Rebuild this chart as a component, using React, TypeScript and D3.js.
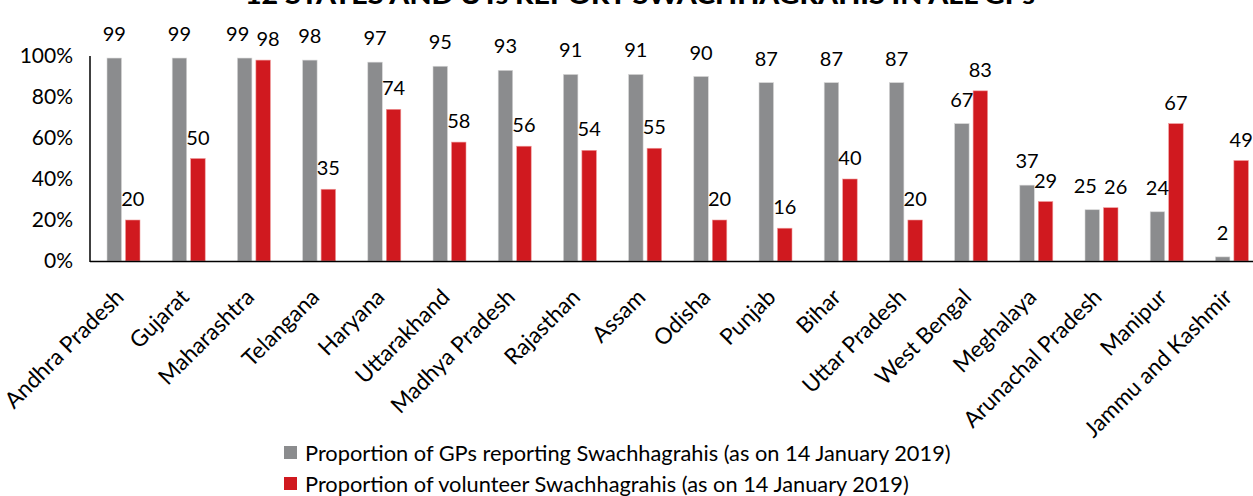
import React, { useEffect, useRef } from 'react';
import * as d3 from 'd3';

const states = [
  'Andhra Pradesh', 'Gujarat', 'Maharashtra', 'Telangana', 'Haryana', 'Uttarakhand',
  'Madhya Pradesh', 'Rajasthan', 'Assam', 'Odisha', 'Punjab', 'Bihar', 'Uttar Pradesh',
  'West Bengal', 'Meghalaya', 'Arunachal Pradesh', 'Manipur', 'Jammu and Kashmir',
];
const gpShare = [99, 99, 99, 98, 97, 95, 93, 91, 91, 90, 87, 87, 87, 67, 37, 25, 24, 2];
const volunteerShare = [20, 50, 98, 35, 74, 58, 56, 54, 55, 20, 16, 40, 20, 83, 29, 26, 67, 49];
const yTicks = [0, 20, 40, 60, 80, 100];
const seriesNames = [
  'Proportion of GPs reporting Swachhagrahis (as on 14 January 2019)',
  'Proportion of volunteer Swachhagrahis (as on 14 January 2019)',
];
const title = '12 STATES AND UTs REPORT SWACHHAGRAHIS IN ALL GPs';

const GREY = '#8b8c8e';
const RED = '#d0191f';
const FONT = 'Lato, "Open Sans", sans-serif';

const App = () => {
  const ref = useRef<SVGSVGElement>(null);

  useEffect(() => {
    const svg = d3.select(ref.current);
    svg.selectAll('*').remove();

    const width = 1253;
    const left = 90;
    const x0 = d3.scaleBand().domain(states).range([left, left + states.length * 65.2]);
    const x1 = d3.scaleBand().domain(['gp', 'vol']).range([17, 50]).paddingInner(0.216);
    const y = d3.scaleLinear().domain([0, 100]).range([261, 56]);

    // title, mostly above the visible area
    svg.append('text')
      .attr('x', 640).attr('y', 4)
      .attr('text-anchor', 'middle')
      .attr('font-family', FONT).attr('font-weight', 900).attr('font-size', 24)
      .attr('textLength', 790).attr('lengthAdjust', 'spacingAndGlyphs')
      .text(title);

    // y tick labels
    svg.append('g').selectAll('text')
      .data(yTicks).enter().append('text')
      .attr('x', 73).attr('y', d => y(d))
      .attr('dy', '0.35em')
      .attr('text-anchor', 'end')
      .attr('font-family', FONT).attr('font-size', 21)
      .text(d => d + '%');

    const rows = states.map((s, i) => ({ state: s, gp: gpShare[i], vol: volunteerShare[i] }));

    const groups = svg.append('g').selectAll('g')
      .data(rows).enter().append('g')
      .attr('transform', d => `translate(${x0(d.state)},0)`);

    const bw = x1.bandwidth();
    groups.append('rect')
      .attr('x', x1('gp')!).attr('width', bw)
      .attr('y', d => y(d.gp)).attr('height', d => y(0) - y(d.gp))
      .attr('fill', GREY).attr('stroke', '#d6d6d6').attr('stroke-width', 0.6);
    groups.append('rect')
      .attr('x', x1('vol')!).attr('width', bw)
      .attr('y', d => y(d.vol)).attr('height', d => y(0) - y(d.vol))
      .attr('fill', RED).attr('stroke', '#ef9a9a').attr('stroke-width', 0.6);

    // value labels (pushed apart when the two bars are nearly equal)
    const nudge = (d: any) => (Math.abs(d.gp - d.vol) <= 2 ? 7 : 0);
    groups.append('text')
      .attr('x', d => x1('gp')! + bw / 2 - nudge(d))
      .attr('y', d => y(d.gp) - 17)
      .attr('text-anchor', 'middle')
      .attr('font-family', FONT).attr('font-size', 20)
      .text(d => d.gp);
    groups.append('text')
      .attr('x', d => x1('vol')! + bw / 2 + nudge(d) * 0.7)
      .attr('y', d => y(d.vol) - 14)
      .attr('text-anchor', 'middle')
      .attr('font-family', FONT).attr('font-size', 20)
      .text(d => d.vol);

    // axis lines
    svg.append('line')
      .attr('x1', left).attr('x2', left).attr('y1', 56).attr('y2', 262)
      .attr('stroke', '#000').attr('stroke-width', 1.5);
    svg.append('line')
      .attr('x1', left).attr('x2', width).attr('y1', 261.5).attr('y2', 261.5)
      .attr('stroke', '#000').attr('stroke-width', 1.5);

    // category labels
    svg.append('g').selectAll('text')
      .data(states).enter().append('text')
      .attr('transform', d => `translate(${x0(d)! + x0.bandwidth() / 2 - 3},${293}) rotate(-45)`)
      .attr('text-anchor', 'end')
      .attr('dy', '0.35em')
      .attr('font-family', FONT).attr('font-size', 22.5)
      .text(d => d);

    // legend
    const legend = svg.append('g').selectAll('g')
      .data(seriesNames).enter().append('g')
      .attr('transform', (_, i) => `translate(284,${446 + i * 31})`);
    legend.append('rect')
      .attr('width', 13).attr('height', 13)
      .attr('fill', (_, i) => (i === 0 ? GREY : RED));
    legend.append('text')
      .attr('x', 21).attr('y', 15)
      .attr('font-family', FONT).attr('font-size', 21.8)
      .text(d => d);
  }, []);

  return (
    <svg
      ref={ref}
      width={1253}
      height={496}
      style={{ position: 'absolute', top: 0, left: 0, display: 'block' }}
    />
  );
};

export default App;
